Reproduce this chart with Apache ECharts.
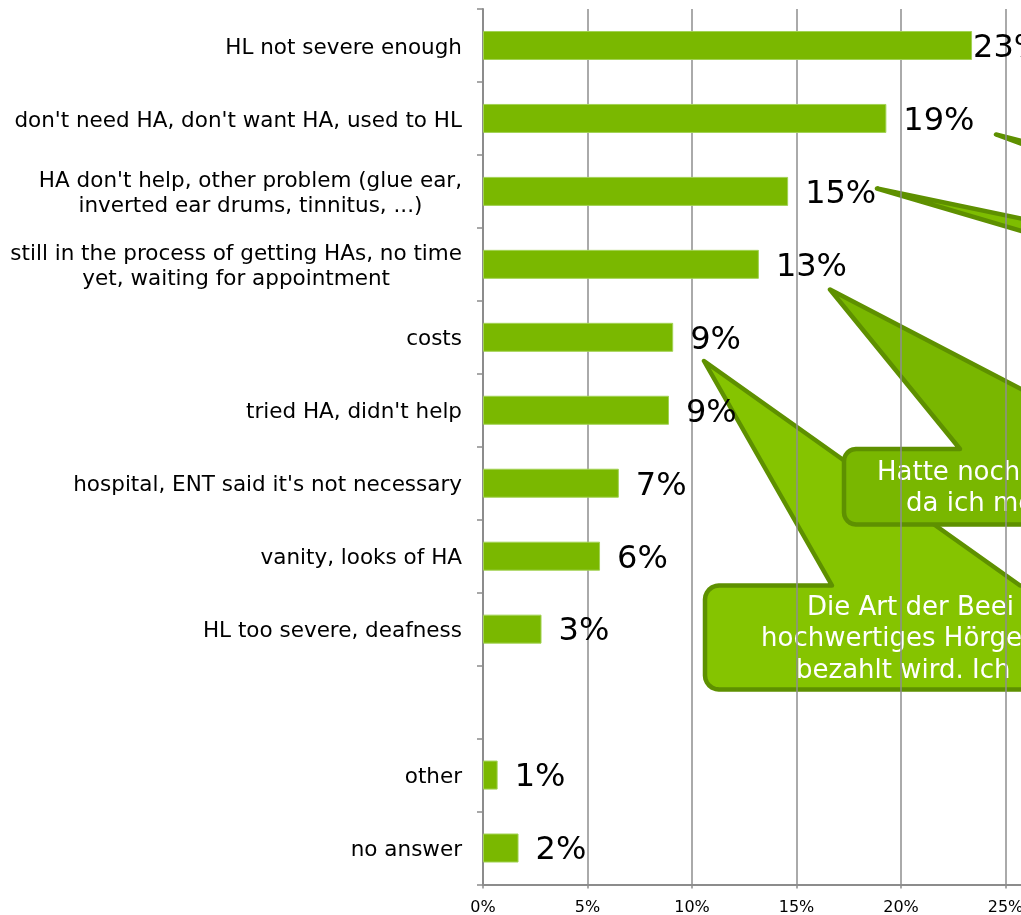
<!DOCTYPE html>
<html>
<head>
<meta charset="utf-8">
<script src="https://cdn.jsdelivr.net/npm/echarts@6/dist/echarts.min.js"></script>
<style>
  html, body { margin: 0; padding: 0; background: #ffffff; }
  #chart { width: 1021px; height: 915px; }
</style>
</head>
<body>
<div id="chart"></div>
<script>
// Reasons given for not wearing hearing aids (share of respondents, %)
const categories = [
  'HL not severe enough',
  "don't need HA, don't want HA, used to HL",
  "HA don't help, other problem (glue ear,\ninverted ear drums, tinnitus, ...)",
  'still in the process of getting HAs, no time\nyet, waiting for appointment',
  'costs',
  "tried HA, didn't help",
  "hospital, ENT said it's not necessary",
  'vanity, looks of HA',
  'HL too severe, deafness',
  '',
  'other',
  'no answer'
];
const shares = [23.4, 19.3, 14.6, 13.2, 9.1, 8.9, 6.5, 5.6, 2.8, null, 0.7, 1.7];

// Percent axis
const axisMin = 0;
const axisMax = 30;
const axisStep = 5;

// Quoted answers shown in the speech bubbles
const quoteWaiting = ['Hatte noch', 'da ich me'];
const quoteCosts = ['Die Art der Beei', 'hochwertiges Hörge', 'bezahlt wird. Ich'];

const FONT = '"DejaVu Sans", Verdana, sans-serif';
const BAR_GREEN = '#7ab800';
const BUBBLE_DARK = '#5e9000';

// Rounded rectangle with a wedge rising from its top edge to a tip point
function bubblePoints(x, y, w, h, r, baseL, baseR, tip) {
  const pts = [];
  const arc = (cx, cy, a0, a1) => {
    const n = 6;
    for (let i = 0; i <= n; i++) {
      const a = a0 + (a1 - a0) * i / n;
      pts.push([cx + r * Math.cos(a), cy + r * Math.sin(a)]);
    }
  };
  pts.push([baseL, y], tip, [baseR, y]);
  arc(x + w - r, y + r, -Math.PI / 2, 0);
  arc(x + w - r, y + h - r, 0, Math.PI / 2);
  arc(x + r, y + h - r, Math.PI / 2, Math.PI);
  arc(x + r, y + r, Math.PI, Math.PI * 1.5);
  return pts;
}

const labelDistance = shares.map(() => 17);
labelDistance[0] = 1;

const chart = echarts.init(document.getElementById('chart'), null, { renderer: 'canvas' });

const bubbleText = (lines, xs, ys) => lines.map((t, i) => ({
  type: 'text',
  z: -1,
  x: xs[i],
  y: ys[i],
  style: {
    text: t,
    fill: '#ffffff',
    font: '26px ' + FONT,
    textAlign: 'left',
    textVerticalAlign: 'middle'
  }
}));

chart.setOption({
  animation: false,
  backgroundColor: '#ffffff',
  grid: {
    left: 483, right: -89, top: 9, bottom: 30.5,
    containLabel: false,
    outerBoundsMode: 'none'
  },
  xAxis: {
    type: 'value',
    min: axisMin,
    max: axisMax,
    interval: axisStep,
    axisLine: { show: true, lineStyle: { color: '#8c8c8c', width: 2 } },
    axisTick: { show: true, length: 4, lineStyle: { color: '#8c8c8c', width: 1.5 } },
    axisLabel: {
      formatter: '{value}%',
      fontFamily: FONT,
      fontSize: 16,
      color: '#000000',
      margin: 15
    },
    splitLine: { show: true, lineStyle: { color: '#8e8e8e', width: 1.5 } }
  },
  yAxis: {
    type: 'category',
    inverse: true,
    data: categories,
    axisLine: { show: true, lineStyle: { color: '#8c8c8c', width: 2 } },
    axisTick: { show: true, length: 6, lineStyle: { color: '#8c8c8c', width: 1.5 } },
    axisLabel: {
      margin: 21,
      fontFamily: FONT,
      fontSize: 21.5,
      lineHeight: 25,
      color: '#000000',
      padding: [5, 0, 0, 0],
      formatter: v => v.split('\n').map(l => '{c|' + l + '}').join('\n'),
      rich: {
        c: { align: 'center', fontFamily: FONT, fontSize: 21.5, lineHeight: 25, color: '#000000' }
      }
    },
    splitLine: { show: false }
  },
  series: [{
    type: 'bar',
    barWidth: 29,
    data: shares.map((v, i) => ({
      value: v,
      label: { distance: labelDistance[i] }
    })),
    itemStyle: { color: BAR_GREEN, borderColor: '#a2d254', borderWidth: 1 },
    label: {
      show: true,
      position: 'right',
      offset: [0, 3],
      fontFamily: FONT,
      fontSize: 32,
      color: '#000000',
      formatter: p => Math.round(p.value) + '%'
    }
  }],
  graphic: {
    elements: [
      // bubble pointing at "costs"
      {
        type: 'polygon',
        z: -5,
        shape: { points: bubblePoints(705, 585.5, 520, 104, 14, 832, 1020, [704, 361]) },
        style: { fill: '#85c400', stroke: BUBBLE_DARK, lineWidth: 4.5, lineJoin: 'round' }
      },
      // bubble pointing at "still in the process ..."
      {
        type: 'polygon',
        z: -4,
        shape: { points: bubblePoints(844, 449, 420, 75.5, 12, 960, 1136, [830, 289.5]) },
        style: { fill: '#79b700', stroke: BUBBLE_DARK, lineWidth: 4.5, lineJoin: 'round' }
      },
      // wedge pointing at "HA don't help ..."
      {
        type: 'polygon',
        z: -3,
        shape: { points: [[877, 188.5], [1100, 235], [1100, 254]] },
        style: { fill: '#7ebd00', stroke: BUBBLE_DARK, lineWidth: 4.5, lineJoin: 'round' }
      },
      // wedge pointing at "don't need HA ..."
      {
        type: 'polygon',
        z: -3,
        shape: { points: [[996, 134.5], [1080, 156], [1080, 165]] },
        style: { fill: '#7ebd00', stroke: BUBBLE_DARK, lineWidth: 4.5, lineJoin: 'round' }
      }
    ]
      .concat(bubbleText(quoteWaiting, [877, 906], [473, 504]))
      .concat(bubbleText(quoteCosts, [807, 761, 796], [608, 639.5, 671]))
  }
});
</script>
</body>
</html>
